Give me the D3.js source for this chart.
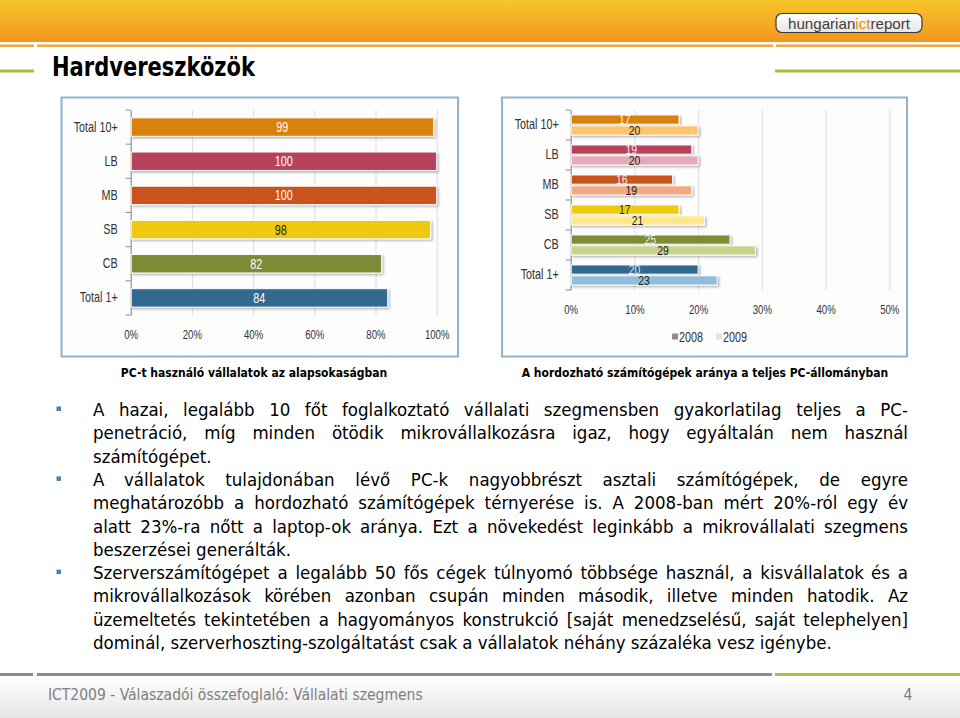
<!DOCTYPE html>
<html>
<head>
<meta charset="utf-8">
<script src="https://cdn.jsdelivr.net/npm/d3@7"></script>
<style>
  body { margin: 0; background: #fff; }
  svg { display: block; }
</style>
</head>
<body>
<div id="slide"></div>
<script>
// chart data
var categories = ["Total 10+", "LB", "MB", "SB", "CB", "Total 1+"];
var pcUsers = [99, 100, 100, 98, 82, 84];
var laptop2008 = [17, 19, 16, 17, 25, 20];
var laptop2009 = [20, 20, 19, 21, 29, 23];
var years = ["2008", "2009"];
var leftTicks = [0, 20, 40, 60, 80, 100];
var rightTicks = [0, 10, 20, 30, 40, 50];

var darkColors = ["#d98008", "#b6435b", "#c9531f", "#efc90c", "#7e8b35", "#336b8f"];
var lightColors = ["#fec36c", "#e4aab6", "#f1a983", "#fde98b", "#c8d48c", "#90bdda"];
var legendColors = ["#8c8c8c", "#e3e3e3"];

var bulletLines = [
  ["A hazai, legalább 10 főt foglalkoztató vállalati szegmensben gyakorlatilag teljes a PC-", true, true],
  ["penetráció, míg minden ötödik mikrovállalkozásra igaz, hogy egyáltalán nem használ", true, false],
  ["számítógépet.", false, false],
  ["A vállalatok tulajdonában lévő PC-k nagyobbrészt asztali számítógépek, de egyre", true, true],
  ["meghatározóbb a hordozható számítógépek térnyerése is. A 2008-ban mért 20%-ról egy év", true, false],
  ["alatt 23%-ra nőtt a laptop-ok aránya. Ezt a növekedést leginkább a mikrovállalati szegmens", true, false],
  ["beszerzései generálták.", false, false],
  ["Szerverszámítógépet a legalább 50 fős cégek túlnyomó többsége használ, a kisvállalatok és a", true, true],
  ["mikrovállalkozások körében azonban csupán minden második, illetve minden hatodik. Az", true, false],
  ["üzemeltetés tekintetében a hagyományos konstrukció [saját menedzselésű, saját telephelyen]", true, false],
  ["dominál, szerverhoszting-szolgáltatást csak a vállalatok néhány százaléka vesz igénybe.", false, false]
];

var W = 960, H = 718;
var chartFont = "'Liberation Sans', Arial, sans-serif";
var textFont = "'DejaVu Sans Condensed', 'DejaVu Sans', sans-serif";
var squeeze = 0.77; // the slide's chart text is horizontally compressed

var svg = d3.select("#slide").append("svg")
    .attr("width", W)
    .attr("height", H);

// squeeze text horizontally around its own anchor
function narrow(sel, k) {
    sel.each(function() {
        var t = d3.select(this);
        var x = +t.attr("x") || 0, y = +t.attr("y") || 0;
        t.attr("x", null).attr("y", null)
            .attr("transform", "translate(" + x + "," + y + ") scale(" + k + ",1)");
    });
}

var defs = svg.append("defs");

var hdr = defs.append("linearGradient").attr("id", "hdr")
    .attr("x1", 0).attr("y1", 0).attr("x2", 0).attr("y2", 1);
hdr.append("stop").attr("offset", "0%").attr("stop-color", "#f7c52c");
hdr.append("stop").attr("offset", "100%").attr("stop-color", "#f2951d");

var foot = defs.append("linearGradient").attr("id", "foot")
    .attr("x1", 0).attr("y1", 0).attr("x2", 0).attr("y2", 1);
foot.append("stop").attr("offset", "0%").attr("stop-color", "#ffffff");
foot.append("stop").attr("offset", "100%").attr("stop-color", "#e6e6e6");

var logoGrad = defs.append("linearGradient").attr("id", "logo")
    .attr("x1", 0).attr("y1", 0).attr("x2", 0).attr("y2", 1);
logoGrad.append("stop").attr("offset", "0%").attr("stop-color", "#ffffff");
logoGrad.append("stop").attr("offset", "100%").attr("stop-color", "#e6e6e6");

var shadow = defs.append("filter").attr("id", "shadow")
    .attr("x", "-5%").attr("y", "-30%").attr("width", "115%").attr("height", "180%");
shadow.append("feDropShadow")
    .attr("dx", 1.5).attr("dy", 1.5).attr("stdDeviation", 0.8)
    .attr("flood-color", "#000").attr("flood-opacity", 0.3);

// header band
svg.append("rect").attr("x", 0).attr("y", 0).attr("width", W).attr("height", 42)
    .attr("fill", "url(#hdr)");
svg.append("rect").attr("x", 0).attr("y", 44.5).attr("width", W).attr("height", 2.5)
    .attr("fill", "#f4a544");
[34, 773].forEach(function(x) {
    svg.append("rect").attr("x", x).attr("y", 43).attr("width", 3).attr("height", 5).attr("fill", "#fff");
});

var logo = svg.append("g");
logo.append("rect").attr("x", 776).attr("y", 13.5).attr("width", 146).attr("height", 19)
    .attr("rx", 6).attr("fill", "url(#logo)").attr("stroke", "#3a3a3a").attr("stroke-width", 1.2);
var logoText = logo.append("text").attr("x", 849).attr("y", 28.5)
    .attr("text-anchor", "middle")
    .attr("textLength", 122).attr("lengthAdjust", "spacingAndGlyphs")
    .style("font-family", "'Liberation Sans', Arial, sans-serif")
    .style("font-size", "15px")
    .attr("fill", "#3d3d3d");
logoText.append("tspan").text("hungarian");
logoText.append("tspan").text("ict").attr("fill", "#f08c00");
logoText.append("tspan").text("report");

// title
svg.append("rect").attr("x", 0).attr("y", 69.5).attr("width", 34).attr("height", 3).attr("fill", "#a3c13b");
svg.append("rect").attr("x", 775).attr("y", 69.5).attr("width", W - 775).attr("height", 3).attr("fill", "#a3c13b");
svg.append("text").attr("x", 52).attr("y", 76)
    .attr("textLength", 203).attr("lengthAdjust", "spacingAndGlyphs")
    .style("font-family", textFont)
    .style("font-weight", "bold")
    .style("font-size", "26px")
    .attr("fill", "#000")
    .text("Hardvereszközök");

// chart frames
function frame(x0, x1) {
    svg.append("rect").attr("x", x0).attr("y", 97.5).attr("width", x1 - x0).attr("height", 259)
        .attr("fill", "#fdfdfd").attr("stroke", "#8fb4cf").attr("stroke-width", 2);
}
frame(61.5, 458);
frame(502, 907);

function styleAxisText(s, size) {
    s.selectAll("text").style("font-family", chartFont).style("font-size", size).attr("fill", "#333");
    narrow(s.selectAll("text"), squeeze);
}

// left chart: PC users
(function() {
    var x = d3.scaleLinear().domain([0, 100]).range([130.7, 436.7]);
    var y = d3.scaleBand().domain(categories).range([110, 315]).paddingInner(0.46).paddingOuter(0.23);
    var g = svg.append("g");

    g.append("g").attr("transform", "translate(0,315)")
        .call(d3.axisBottom(x).tickValues(leftTicks).tickSize(-205).tickFormat(""))
        .call(function(s) {
            s.select(".domain").remove();
            s.selectAll("line").attr("stroke", "#dcdcdc");
        });

    g.append("g").attr("transform", "translate(0,315)")
        .call(d3.axisBottom(x).tickValues(leftTicks).tickSize(0).tickPadding(15).tickFormat(function(d) { return d + "%"; }))
        .call(function(s) {
            s.select(".domain").remove();
            styleAxisText(s, "12.5px");
        });

    g.append("g").attr("transform", "translate(" + x(0) + ",0)")
        .call(d3.axisLeft(y).tickSize(0).tickPadding(13))
        .call(function(s) {
            s.select(".domain").attr("stroke", "#8a8a8a");
            styleAxisText(s, "14px");
        });

    var edges = d3.range(categories.length + 1).map(function(i) { return 110 + i * y.step(); });
    g.selectAll(".ytick").data(edges).enter().append("line")
        .attr("x1", x(0) - 5).attr("x2", x(0))
        .attr("y1", function(d) { return d; }).attr("y2", function(d) { return d; })
        .attr("stroke", "#8a8a8a");

    g.selectAll(".bar").data(pcUsers).enter().append("rect")
        .attr("x", x(0) + 0.5)
        .attr("y", function(d, i) { return y(categories[i]); })
        .attr("width", function(d) { return x(d) - x(0) - 0.5; })
        .attr("height", y.bandwidth())
        .attr("fill", function(d, i) { return darkColors[i]; })
        .attr("stroke", "#fff").attr("stroke-width", 1)
        .attr("filter", "url(#shadow)");

    var vals = g.selectAll(".val").data(pcUsers).enter().append("text")
        .attr("x", function(d) { return (x(0) + x(d)) / 2; })
        .attr("y", function(d, i) { return y(categories[i]) + y.bandwidth() / 2; })
        .attr("dy", "0.36em")
        .attr("text-anchor", "middle")
        .style("font-family", chartFont).style("font-size", "14px")
        .attr("fill", function(d, i) { return i === 3 ? "#222" : "#fff"; })
        .text(function(d) { return d; });
    narrow(vals, squeeze);

    svg.append("text").attr("x", 254).attr("y", 377)
        .attr("text-anchor", "middle")
        .style("font-family", textFont).style("font-weight", "bold").style("font-size", "12px")
        .text("PC-t használó vállalatok az alapsokaságban");
})();

// right chart: laptop share
(function() {
    var x = d3.scaleLinear().domain([0, 50]).range([570.7, 889.3]);
    var y = d3.scaleBand().domain(categories).range([110, 290]).paddingInner(0.33).paddingOuter(0.165);
    var ySub = d3.scaleBand().domain(years).range([0, y.bandwidth()]).paddingInner(0.15);
    var g = svg.append("g");
    var series = [laptop2008, laptop2009];
    var palettes = [darkColors, lightColors];

    g.append("g").attr("transform", "translate(0,290)")
        .call(d3.axisBottom(x).tickValues(rightTicks).tickSize(-180).tickFormat(""))
        .call(function(s) {
            s.select(".domain").remove();
            s.selectAll("line").attr("stroke", "#dcdcdc");
        });

    g.append("g").attr("transform", "translate(0,290)")
        .call(d3.axisBottom(x).tickValues(rightTicks).tickSize(0).tickPadding(15).tickFormat(function(d) { return d + "%"; }))
        .call(function(s) {
            s.select(".domain").remove();
            styleAxisText(s, "12.5px");
        });

    g.append("g").attr("transform", "translate(" + x(0) + ",0)")
        .call(d3.axisLeft(y).tickSize(0).tickPadding(12))
        .call(function(s) {
            s.select(".domain").attr("stroke", "#8a8a8a");
            styleAxisText(s, "14px");
        });

    var edges = d3.range(categories.length + 1).map(function(i) { return 110 + i * y.step(); });
    g.selectAll(".ytick").data(edges).enter().append("line")
        .attr("x1", x(0) - 5).attr("x2", x(0))
        .attr("y1", function(d) { return d; }).attr("y2", function(d) { return d; })
        .attr("stroke", "#8a8a8a");

    series.forEach(function(vals, si) {
        g.selectAll(".bar" + si).data(vals).enter().append("rect")
            .attr("x", x(0) + 0.5)
            .attr("y", function(d, i) { return y(categories[i]) + ySub(years[si]); })
            .attr("width", function(d) { return x(d) - x(0) - 0.5; })
            .attr("height", ySub.bandwidth())
            .attr("fill", function(d, i) { return palettes[si][i]; })
            .attr("stroke", "#fff").attr("stroke-width", 1)
            .attr("filter", "url(#shadow)");
    });

    series.forEach(function(vals, si) {
        var lbl = g.selectAll(".val" + si).data(vals).enter().append("text")
            .attr("x", function(d) { return (x(0) + x(d)) / 2; })
            .attr("y", function(d, i) { return y(categories[i]) + ySub(years[si]) + ySub.bandwidth() / 2; })
            .attr("dy", "0.36em")
            .attr("text-anchor", "middle")
            .style("font-family", chartFont).style("font-size", "13.5px")
            .attr("fill", function(d, i) { return (si === 1 || i === 3) ? "#1a1a1a" : "#fff"; })
            .attr("fill-opacity", si === 0 ? 0.9 : 1)
            .text(function(d) { return d; });
        narrow(lbl, squeeze);
    });

    // legend
    var lg = g.append("g").attr("transform", "translate(672,337)");
    var lx = [0, 44];
    years.forEach(function(yr, i) {
        lg.append("rect").attr("x", lx[i]).attr("y", -3.5).attr("width", 6).attr("height", 6)
            .attr("fill", legendColors[i]);
        var t = lg.append("text").attr("x", lx[i] + 7).attr("y", 0).attr("dy", "0.36em")
            .style("font-family", chartFont).style("font-size", "14px").attr("fill", "#333")
            .text(yr);
        narrow(t, squeeze);
    });

    svg.append("text").attr("x", 705).attr("y", 377)
        .attr("text-anchor", "middle")
        .style("font-family", textFont).style("font-weight", "bold").style("font-size", "12px")
        .text("A hordozható számítógépek aránya a teljes PC-állományban");
})();

// bullet text, justified like the slide
(function() {
    var x0 = 93, x1 = 908, base = 416, lh = 23.3;
    var g = svg.append("g")
        .style("font-family", textFont)
        .style("font-size", "18.5px")
        .attr("fill", "#000");

    var probe = g.append("text").text("x x");
    var w2 = probe.node().getComputedTextLength();
    probe.text("xx");
    var spaceW = w2 - probe.node().getComputedTextLength();
    probe.remove();

    bulletLines.forEach(function(line, li) {
        var yy = base + li * lh;
        var words = line[0].split(" ");
        var t = g.append("text").attr("y", yy);
        var spans = words.map(function(w) { return t.append("tspan").text(w); });
        var widths = spans.map(function(s) { return s.node().getComputedTextLength(); });
        var total = d3.sum(widths);
        var gap = line[1] ? (x1 - x0 - total) / (words.length - 1) : spaceW;
        var cx = x0;
        spans.forEach(function(s, i) {
            s.attr("x", cx);
            cx += widths[i] + gap;
        });
        if (line[2]) {
            g.append("rect").attr("x", 56.5).attr("y", yy - 9.5).attr("width", 4.5).attr("height", 4.5)
                .attr("fill", "#4f80a8");
        }
    });
})();

// footer
svg.append("rect").attr("x", 0).attr("y", 676).attr("width", W).attr("height", H - 676).attr("fill", "url(#foot)");
svg.append("rect").attr("x", 0).attr("y", 673).attr("width", 33).attr("height", 3).attr("fill", "#8a8a8a");
svg.append("rect").attr("x", 37).attr("y", 673).attr("width", 735).attr("height", 3).attr("fill", "#8a8a8a");
svg.append("rect").attr("x", 775).attr("y", 673).attr("width", W - 775).attr("height", 3).attr("fill", "#a5c23b");
svg.append("text").attr("x", 48).attr("y", 700)
    .style("font-family", textFont).style("font-size", "15.5px").attr("fill", "#808080")
    .text("ICT2009 - Válaszadói összefoglaló: Vállalati szegmens");
svg.append("text").attr("x", 908).attr("y", 700)
    .attr("text-anchor", "middle")
    .style("font-family", textFont).style("font-size", "15.5px").attr("fill", "#808080")
    .text("4");
</script>
</body>
</html>
